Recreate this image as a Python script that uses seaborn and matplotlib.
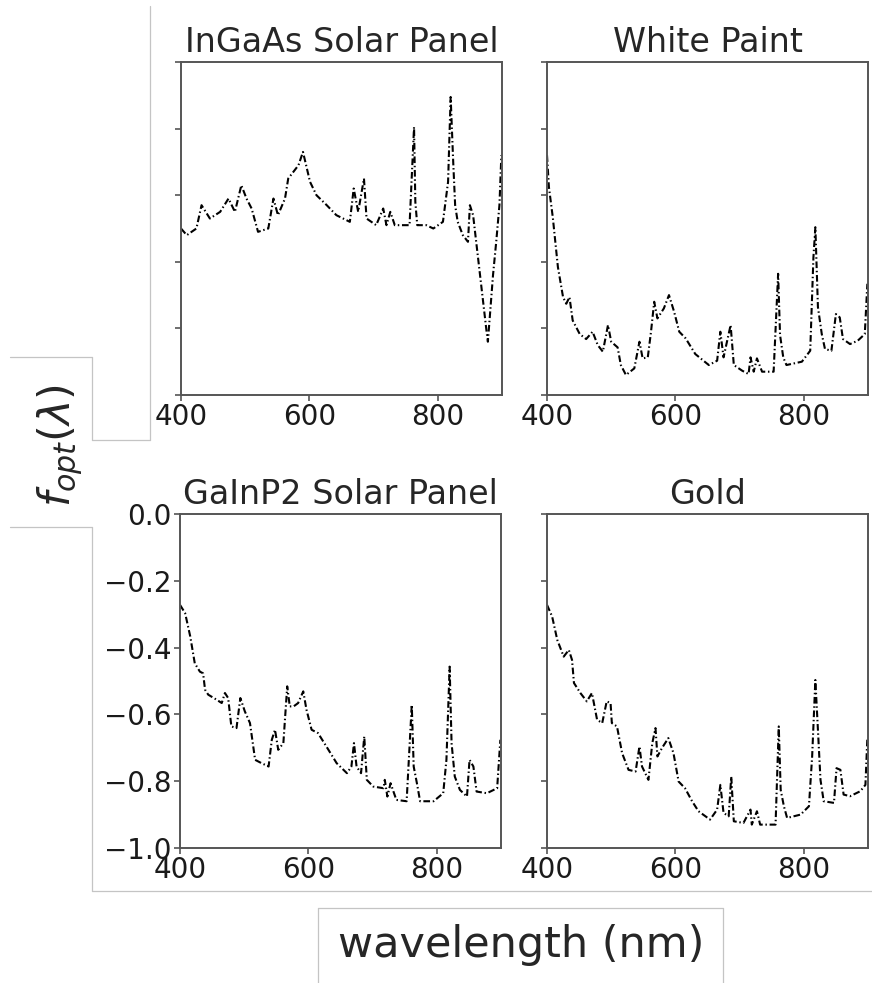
import numpy as np
import pandas as pd
import matplotlib
matplotlib.use("Agg")
import matplotlib.pyplot as plt
from matplotlib.lines import Line2D
import seaborn as sns

# Panel titles
titles = ["InGaAs Solar Panel", "White Paint", "GaInP2 Solar Panel", "Gold"]

# Optical figure of merit per material (wavelength in nm, value)
ingaas_wl = [400, 409, 424, 432, 445, 461, 474, 484, 494, 502, 510, 520, 536, 544,
             551, 562, 567, 575, 583, 590, 601, 611, 627, 642, 663, 669, 676, 685,
             689, 704, 715, 720, 726, 733, 756, 763, 765, 768, 782, 793, 808, 816,
             820, 824, 827, 831, 839, 847, 850, 855, 876, 878, 886, 891, 896, 899]
ingaas_f = [-0.50, -0.52, -0.50, -0.43, -0.47, -0.45, -0.41, -0.45, -0.37, -0.41,
            -0.44, -0.51, -0.50, -0.41, -0.46, -0.41, -0.35, -0.33, -0.31, -0.27,
            -0.36, -0.40, -0.43, -0.46, -0.48, -0.38, -0.45, -0.35, -0.47, -0.49,
            -0.44, -0.49, -0.45, -0.49, -0.49, -0.195, -0.42, -0.49, -0.49, -0.50,
            -0.48, -0.36, -0.105, -0.30, -0.43, -0.48, -0.52, -0.54, -0.43, -0.46,
            -0.81, -0.84, -0.64, -0.54, -0.43, -0.28]

paint_wl = [400, 403, 409, 417, 425, 430, 435, 440, 451, 461, 471, 479, 487, 495,
            500, 510, 515, 523, 536, 544, 549, 557, 562, 567, 572, 582, 590, 598,
            606, 616, 631, 652, 665, 670, 675, 686, 691, 704, 714, 717, 722, 727,
            735, 753, 760, 763, 768, 773, 797, 810, 815, 818, 822, 828, 833, 843,
            850, 856, 861, 872, 884, 895, 899]
paint_f = [-0.28, -0.376, -0.466, -0.616, -0.706, -0.726, -0.706, -0.776, -0.817,
           -0.832, -0.81, -0.85, -0.87, -0.79, -0.84, -0.857, -0.91, -0.94, -0.92,
           -0.84, -0.89, -0.887, -0.81, -0.72, -0.77, -0.74, -0.70, -0.75, -0.81,
           -0.83, -0.877, -0.91, -0.897, -0.81, -0.887, -0.79, -0.91, -0.927,
           -0.937, -0.887, -0.93, -0.89, -0.93, -0.93, -0.636, -0.82, -0.887,
           -0.91, -0.90, -0.867, -0.586, -0.496, -0.736, -0.817, -0.862, -0.867,
           -0.757, -0.767, -0.832, -0.847, -0.837, -0.817, -0.666]

gainp_wl = [400, 408, 416, 423, 431, 436, 439, 444, 457, 465, 470, 475, 480, 488,
            494, 501, 509, 517, 527, 538, 543, 548, 553, 561, 567, 571, 577, 584,
            592, 597, 605, 615, 628, 644, 660, 667, 671, 675, 682, 687, 691, 701,
            717, 719, 723, 728, 737, 753, 761, 764, 769, 774, 795, 810, 815, 820,
            823, 828, 836, 847, 851, 857, 862, 878, 894, 899]
gainp_f = [-0.272, -0.297, -0.367, -0.447, -0.472, -0.477, -0.526, -0.541, -0.556,
           -0.566, -0.536, -0.551, -0.636, -0.641, -0.551, -0.591, -0.626, -0.736,
           -0.746, -0.756, -0.676, -0.646, -0.706, -0.686, -0.516, -0.576, -0.576,
           -0.566, -0.531, -0.586, -0.646, -0.656, -0.696, -0.746, -0.776, -0.756,
           -0.686, -0.756, -0.776, -0.666, -0.796, -0.816, -0.821, -0.796, -0.846,
           -0.806, -0.856, -0.860, -0.571, -0.756, -0.806, -0.860, -0.860, -0.836,
           -0.736, -0.457, -0.686, -0.786, -0.826, -0.846, -0.736, -0.756, -0.831,
           -0.836, -0.821, -0.676]

gold_wl = [400, 408, 416, 426, 434, 439, 442, 452, 462, 470, 478, 486, 493, 499,
           501, 509, 517, 527, 538, 544, 548, 558, 564, 569, 572, 579, 589, 597,
           605, 615, 626, 636, 654, 665, 670, 675, 683, 687, 691, 706, 717, 719,
           727, 732, 756, 761, 764, 769, 774, 795, 808, 813, 818, 822, 826, 831,
           847, 851, 857, 862, 872, 888, 896, 899]
gold_f = [-0.272, -0.307, -0.377, -0.427, -0.407, -0.437, -0.506, -0.536, -0.561,
          -0.536, -0.616, -0.626, -0.561, -0.566, -0.626, -0.636, -0.716, -0.766,
          -0.771, -0.696, -0.756, -0.796, -0.686, -0.641, -0.726, -0.701, -0.671,
          -0.716, -0.801, -0.821, -0.860, -0.890, -0.915, -0.885, -0.811, -0.895,
          -0.905, -0.786, -0.920, -0.925, -0.885, -0.930, -0.890, -0.930, -0.930,
          -0.636, -0.826, -0.875, -0.910, -0.900, -0.875, -0.726, -0.497, -0.646,
          -0.796, -0.860, -0.865, -0.761, -0.766, -0.840, -0.845, -0.830, -0.811,
          -0.671]

series = [(ingaas_wl, ingaas_f), (paint_wl, paint_f),
          (gainp_wl, gainp_f), (gold_wl, gold_f)]

x_ticks = [400, 600, 800]
y_ticks = [0.0, -0.2, -0.4, -0.6, -0.8, -1.0]

sns.set_style("ticks")
plt.rcParams["font.family"] = ["DejaVu Sans"]
plt.rcParams["font.size"] = 20

W, H = 872, 983
fig = plt.figure(figsize=(W / 100, H / 100), dpi=100)

def px_axes(x0, y0, x1, y1):
    return fig.add_axes([x0 / W, 1 - y1 / H, (x1 - x0) / W, (y1 - y0) / H])

boxes = [(181, 62, 502, 395), (547, 62, 868, 395),
         (180, 514, 501, 848), (547, 514, 868, 848)]

spine_col = "#555555"
for i, (box, title, (wl, fv)) in enumerate(zip(boxes, titles, series)):
    ax = px_axes(*box)
    df = pd.DataFrame({"wavelength": wl, "f": fv})
    sns.lineplot(data=df, x="wavelength", y="f", ax=ax, color="black",
                 linewidth=1.5, estimator=None)
    ax.lines[0].set_linestyle((0, (3.2, 1.3, 0.7, 1.3)))
    ax.set_xlim(400, 900)
    ax.set_ylim(-1.0, 0.0)
    ax.set_xticks(x_ticks)
    ax.set_yticks(y_ticks)
    ax.set_xlabel("")
    ax.set_ylabel("")
    ax.set_title(title, fontsize=24, pad=7)
    for s in ax.spines.values():
        s.set_color(spine_col)
        s.set_linewidth(1.4)
    ax.tick_params(axis="both", colors=spine_col, labelcolor="#1a1a1a",
                   labelsize=20, width=1.2, length=4, pad=2)
    if i != 2:
        ax.set_yticklabels([])
    else:
        ax.set_yticklabels([f"{v:.1f}".replace("-", "\u2212") for v in y_ticks])

fig.text(60 / W, 1 - 446 / H, r"$f_{opt}(\lambda)$", rotation=90,
         ha="center", va="center", fontsize=31)
fig.text(521 / W, 1 - 945 / H, "wavelength (nm)",
         ha="center", va="center", fontsize=31)

# Thin light frame segments around label regions
frame = [((150, 6), (150, 440)), ((92, 440), (150, 440)), ((92, 357), (92, 440)),
         ((10, 357), (92, 357)), ((10, 527), (92, 527)), ((92, 527), (92, 891)),
         ((92, 891), (872, 891)), ((318, 908), (723, 908)),
         ((318, 908), (318, 983)), ((723, 908), (723, 983))]
for (xa, ya), (xb, yb) in frame:
    fig.add_artist(Line2D([xa / W, xb / W], [1 - ya / H, 1 - yb / H],
                          transform=fig.transFigure, color="#c4c4c4", lw=0.9))

fig.savefig("out.png", dpi=100)
